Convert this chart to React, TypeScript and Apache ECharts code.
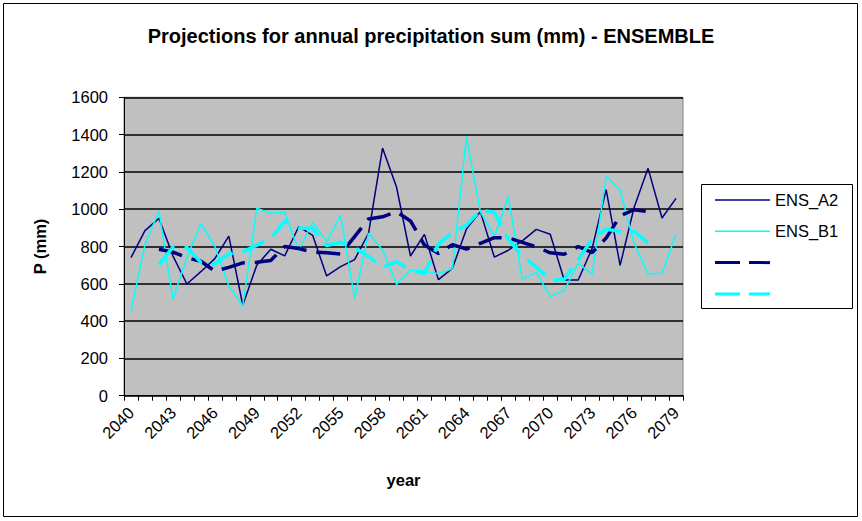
import { useEffect, useRef } from "react";
import * as echarts from "echarts";

// Years on the category axis
const years = [
  "2040", "2041", "2042", "2043", "2044", "2045", "2046", "2047", "2048", "2049",
  "2050", "2051", "2052", "2053", "2054", "2055", "2056", "2057", "2058", "2059",
  "2060", "2061", "2062", "2063", "2064", "2065", "2066", "2067", "2068", "2069",
  "2070", "2071", "2072", "2073", "2074", "2075", "2076", "2077", "2078", "2079",
];

// Annual precipitation sums (mm), A2 scenario ensemble
const ensA2 = [
  740, 885, 951, 750, 599, 665, 735, 856, 485, 700,
  785, 750, 906, 860, 642, 692, 730, 871, 1328, 1119,
  749, 865, 622, 683, 893, 987, 743, 780, 830, 892,
  866, 620, 620, 790, 1105, 699, 1009, 1219, 953, 1058,
];

// Annual precipitation sums (mm), B1 scenario ensemble
const ensB1 = [
  454, 810, 990, 520, 740, 924, 800, 590, 481, 1005,
  978, 983, 780, 930, 826, 965, 522, 871, 781, 597,
  674, 668, 654, 680, 1389, 987, 853, 1067, 625, 661,
  531, 564, 710, 653, 1178, 1103, 817, 653, 656, 865,
];

// 5-year centred moving averages (mm)
const ensA2Avg = [
  null, null, 785, 770, 740, 721, 668, 688, 712, 715,
  725, 800, 789, 770, 766, 759, 853, 948, 959, 986,
  937, 808, 762, 810, 786, 817, 847, 846, 822, 798,
  766, 758, 800, 767, 845, 964, 997, 988, null, null,
];
const ensB1Avg = [
  null, null, 703, 797, 795, 715, 707, 760, 771, 807,
  845, 935, 899, 897, 805, 823, 793, 747, 689, 718,
  675, 655, 813, 876, 913, 995, 984, 839, 747, 690,
  618, 624, 727, 842, 892, 881, 881, 819, null, null,
];

const legendLabels = ["ENS_A2", "ENS_B1", "", ""];

const NAVY = "#000080";
const CYAN = "#00ffff";
const FONT = "'Liberation Sans', Arial, sans-serif";
const DASH = [24, 10];

export default function App() {
  const ref = useRef<HTMLDivElement>(null);

  useEffect(() => {
    if (!ref.current) return;
    const chart = echarts.init(ref.current, undefined, { renderer: "svg" });

    const legendColors = [NAVY, CYAN, NAVY, CYAN];
    const legendDashed = [false, false, true, true];
    const legendItems: any[] = [];
    legendLabels.forEach((label, i) => {
      const y = 200 + i * 31.3;
      legendItems.push({
        type: "line",
        shape: { x1: 715, y1: y, x2: 770, y2: y },
        style: {
          stroke: legendColors[i],
          lineWidth: legendDashed[i] ? 3 : 1.5,
          lineDash: legendDashed[i] ? [25, 9] : null,
        },
      });
      if (label) {
        legendItems.push({
          type: "text",
          x: 775,
          y,
          style: {
            text: label,
            font: `16.5px ${FONT}`,
            fill: "#000",
            textVerticalAlign: "middle",
          },
        });
      }
    });

    chart.setOption({
      animation: false,
      backgroundColor: "#ffffff",
      textStyle: { fontFamily: FONT },
      title: {
        text: "Projections for annual precipitation sum (mm) - ENSEMBLE",
        left: "center",
        top: 21,
        textStyle: { fontSize: 20, fontWeight: "bold", color: "#000", fontFamily: FONT },
      },
      grid: {
        left: 124,
        top: 97.3,
        width: 559,
        height: 298.4,
        show: true,
        backgroundColor: "#c0c0c0",
        borderColor: "#808080",
        borderWidth: 1,
      },
      xAxis: {
        type: "category",
        data: years,
        boundaryGap: true,
        name: "year",
        nameLocation: "middle",
        nameGap: 76,
        nameTextStyle: { fontSize: 16.5, fontWeight: "bold", color: "#000", fontFamily: FONT },
        axisLine: { lineStyle: { color: "#000", width: 1 } },
        axisTick: { show: true, interval: 0, length: 5, lineStyle: { color: "#000" } },
        axisLabel: {
          interval: 2,
          rotate: 45,
          margin: 14,
          fontSize: 16.5,
          color: "#000",
          fontFamily: FONT,
        },
        splitLine: { show: false },
      },
      yAxis: {
        type: "value",
        min: 0,
        max: 1600,
        interval: 200,
        name: "P (mm)",
        nameLocation: "middle",
        nameGap: 76,
        nameTextStyle: { fontSize: 16.5, fontWeight: "bold", color: "#000", fontFamily: FONT },
        axisLine: { show: true, lineStyle: { color: "#000", width: 1 } },
        axisTick: { show: true, length: 5, lineStyle: { color: "#000" } },
        axisLabel: {
          margin: 16,
          fontSize: 16.5,
          color: "#000",
          fontFamily: FONT,
          formatter: (v: number) => String(v),
        },
        splitLine: { show: true, lineStyle: { color: "#000", width: 1.5 } },
      },
      series: [
        {
          name: "ENS_A2",
          type: "line",
          data: ensA2,
          symbol: "none",
          lineStyle: { color: NAVY, width: 1.5 },
          z: 2,
        },
        {
          name: "ENS_B1",
          type: "line",
          data: ensB1,
          symbol: "none",
          lineStyle: { color: CYAN, width: 1.5 },
          z: 2,
        },
        {
          name: "ENS_A2 avg",
          type: "line",
          data: ensA2Avg,
          symbol: "none",
          lineStyle: { color: NAVY, width: 3.5, type: DASH },
          z: 3,
        },
        {
          name: "ENS_B1 avg",
          type: "line",
          data: ensB1Avg,
          symbol: "none",
          lineStyle: { color: CYAN, width: 3.5, type: DASH },
          z: 3,
        },
      ],
      graphic: [
        {
          type: "rect",
          shape: { x: 3.5, y: 3.5, width: 854, height: 513 },
          style: { fill: "none", stroke: "#000", lineWidth: 1 },
          z: -1,
        },
        {
          type: "rect",
          shape: { x: 701.5, y: 184.5, width: 151, height: 124 },
          style: { fill: "#ffffff", stroke: "#000", lineWidth: 1 },
        },
        ...legendItems,
      ],
    });

    return () => chart.dispose();
  }, []);

  return (
    <div
      ref={ref}
      style={{ position: "absolute", left: 0, top: 0, width: 862, height: 521 }}
    />
  );
}
